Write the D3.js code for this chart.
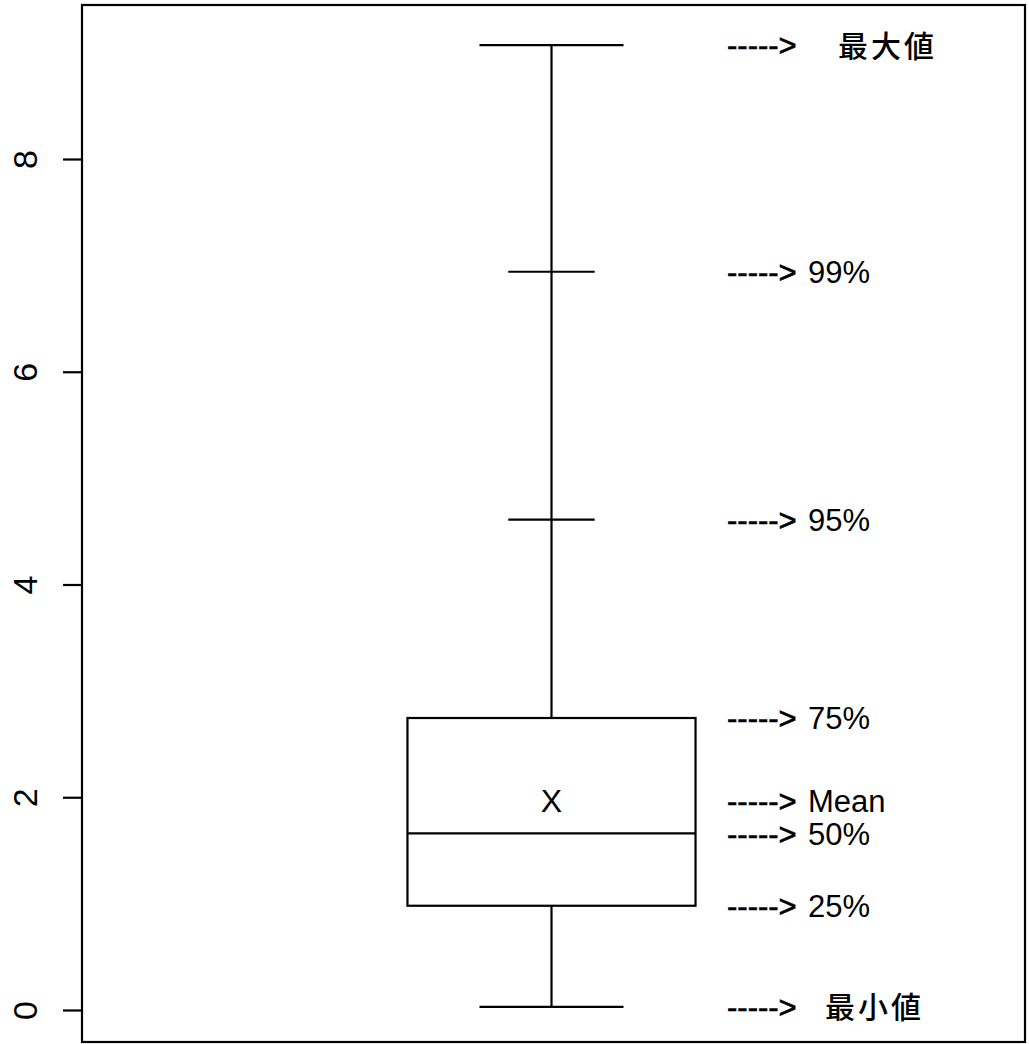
<!DOCTYPE html>
<html>
<head>
<meta charset="utf-8">
<script src="https://cdn.jsdelivr.net/npm/d3@7"></script>
<style>
  html, body { margin: 0; padding: 0; background: #fff; }
  svg { display: block; }
</style>
</head>
<body>
<svg id="chart" width="1029" height="1044"></svg>
<script>
// ---- data ----
const categories = ["sample"];
const statKeys   = ["min", "p25", "median", "mean", "p75", "p95", "p99", "max"];
const statValues = [0.03, 0.98, 1.66, 1.97, 2.745, 4.61, 6.94, 9.07];
const statLabels = ["最小値", "25%", "50%", "Mean", "75%", "95%", "99%", "最大値"];
const yTicks     = [0, 2, 4, 6, 8];
const meanMarker = "X";

(function () {
const S = {};
statKeys.forEach((k, i) => S[k] = statValues[i]);

// ---- layout ----
const svg = d3.select("#chart");
const pLeft = 82, pRight = 1025, pTop = 5, pBottom = 1042;

const y = d3.scaleLinear().domain([0, 8]).range([1010, 159]);
const x = d3.scaleBand().domain(categories).range([pLeft, pRight])
  .paddingInner(0.532).paddingOuter(0.532).align(0.5);

const cx = x(categories[0]) + x.bandwidth() / 2 - 2;
const bw = x.bandwidth();

// frame
svg.append("rect")
  .attr("x", pLeft).attr("y", pTop)
  .attr("width", pRight - pLeft).attr("height", pBottom - pTop)
  .attr("fill", "none").attr("stroke", "#000").attr("stroke-width", 2.2);

// y axis
const axis = d3.axisLeft(y).tickValues(yTicks).tickSize(19).tickFormat(d3.format("d"));
const gAxis = svg.append("g").attr("transform", `translate(${pLeft},0)`).call(axis);
gAxis.select(".domain").remove();
gAxis.selectAll(".tick line").attr("stroke", "#000").attr("stroke-width", 2.2);
gAxis.selectAll(".tick text").remove();
gAxis.selectAll(".tick").append("text")
  .attr("transform", "translate(-45,0) rotate(-90)")
  .attr("text-anchor", "middle")
  .attr("font-family", "Liberation Sans, Arial, sans-serif")
  .attr("font-size", 34)
  .attr("fill", "#000")
  .text(d => d);

const g = svg.append("g").attr("stroke", "#000").attr("stroke-width", 2.2).attr("fill", "none");

// whisker line
g.append("line").attr("x1", cx).attr("x2", cx).attr("y1", y(S.max)).attr("y2", y(S.min));

// box
g.append("rect")
  .attr("x", cx - bw / 2).attr("y", y(S.p75))
  .attr("width", bw).attr("height", y(S.p25) - y(S.p75))
  .attr("fill", "#fff");

// median
g.append("line").attr("x1", cx - bw / 2).attr("x2", cx + bw / 2)
  .attr("y1", y(S.median)).attr("y2", y(S.median));

// caps
const caps = [["max", 0.5], ["p99", 0.3], ["p95", 0.3], ["min", 0.5]];
caps.forEach(([k, f]) => {
  g.append("line").attr("x1", cx - bw * f / 2).attr("x2", cx + bw * f / 2)
    .attr("y1", y(S[k])).attr("y2", y(S[k]));
});

// mean marker
svg.append("text")
  .attr("x", cx).attr("y", y(S.mean)).attr("dy", "0.36em")
  .attr("text-anchor", "middle")
  .attr("font-family", "Liberation Sans, Arial, sans-serif")
  .attr("font-size", 32)
  .text(meanMarker);

// annotations
const ann = svg.append("g");
statKeys.forEach((k, i) => {
  const yy = y(S[k]);
  const cjk = /[\u3400-\u9fff]/.test(statLabels[i]);
  ann.append("text")
    .attr("x", 727).attr("y", yy).attr("dy", "0.36em")
    .attr("font-family", "Liberation Sans, Arial, sans-serif")
    .attr("font-size", 31)
    .attr("stroke", "#000").attr("stroke-width", 0.6)
    .text("----->");
  ann.append("text")
    .attr("x", cjk ? (k === "min" ? 825 : 838) : 808).attr("y", yy).attr("dy", cjk ? "0.38em" : "0.36em")
    .attr("font-family", cjk ? "Noto Sans CJK JP, sans-serif" : "Liberation Sans, Arial, sans-serif")
    .attr("font-weight", cjk ? 500 : 400)
    .attr("letter-spacing", cjk ? 3 : 0)
    .attr("font-size", cjk ? 30 : 31)
    .text(statLabels[i]);
});
})();
</script>
</body>
</html>
